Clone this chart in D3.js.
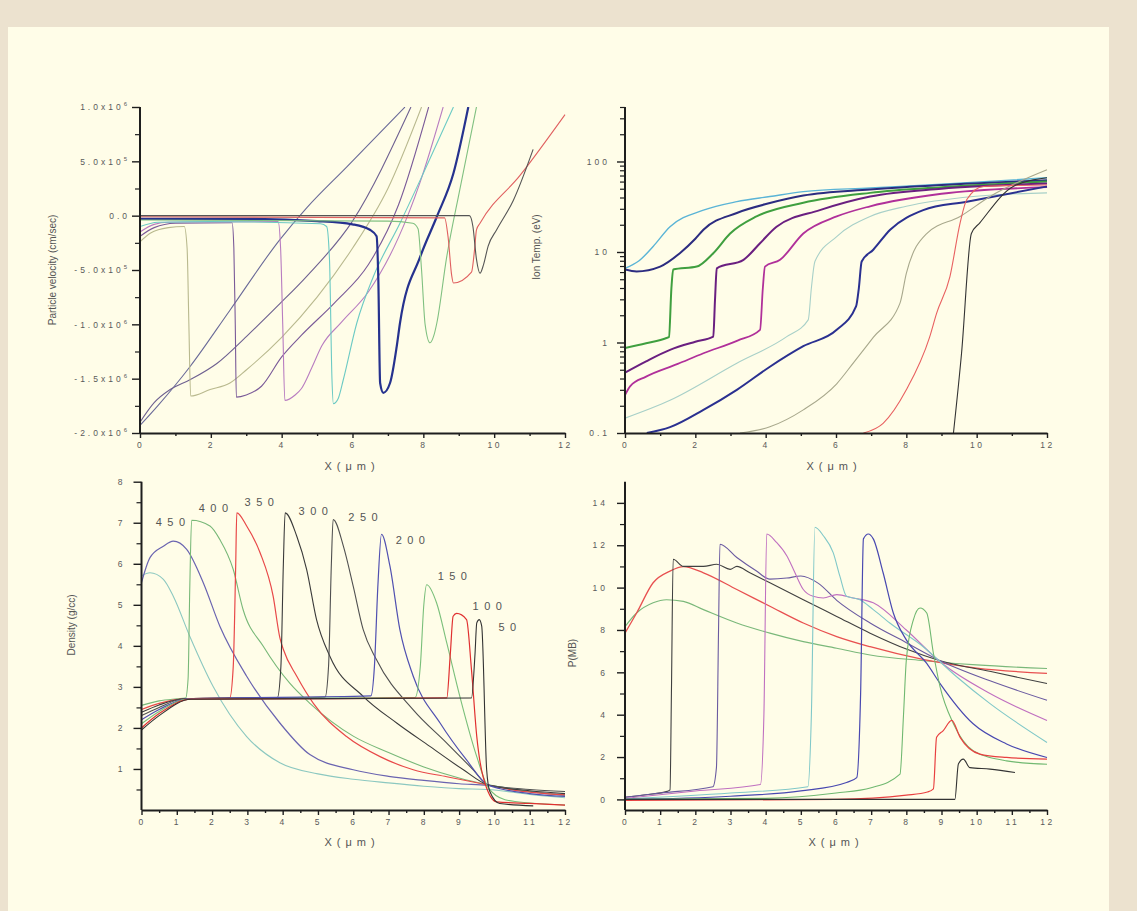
<!DOCTYPE html>
<html><head><meta charset="utf-8">
<script src="https://cdn.jsdelivr.net/npm/d3@7"></script>
<style>
body{margin:0;background:#ece2cf;}
svg{display:block;}
text{font-family:"Liberation Sans",Arial,sans-serif;}
</style></head><body>
<svg id="c" width="1137" height="911"></svg>
<script>
// ---------------- DATA ----------------
const times = [50,100,150,200,250,300,350,400,450,500];

// Particle velocity (units of 1e6 cm/sec) vs X (um)
const vel500 = [[0,-1.93],[0.5,-1.75],[1.41,-1.39],[2.54,-0.87],[3.95,-0.22],[4.7,0.07],[5.84,0.45],[7.48,1.0]];
const vel450 = [[0,-1.9],[0.4,-1.72],[0.85,-1.6],[1.41,-1.51],[2.17,-1.36],[3.01,-1.11],[3.95,-0.81],[4.7,-0.56],[6.0,-0.05],[7.65,1.0]];
const vel400 = [[0,-0.24],[0.3,-0.16],[0.8,-0.11],[1.25,-0.10],[1.33,-0.3],[1.38,-1.0],[1.43,-1.66],[1.98,-1.6],[2.54,-1.54],[3.0,-1.42],[4.0,-1.12],[5.0,-0.75],[6.0,-0.3],[7.0,0.25],[7.95,1.0]];
const vel350 = [[0,-0.19],[0.4,-0.11],[1,-0.07],[2.6,-0.065],[2.65,-0.3],[2.69,-1.0],[2.72,-1.67],[3.0,-1.65],[3.43,-1.57],[4.0,-1.3],[4.56,-1.1],[5.5,-0.8],[6.45,-0.45],[7.3,0.1],[8.15,1.0]];
const vel300 = [[0,-0.15],[0.4,-0.08],[0.8,-0.06],[3.9,-0.055],[3.97,-0.3],[4.03,-1.0],[4.09,-1.70],[4.38,-1.65],[4.56,-1.59],[4.85,-1.40],[5.13,-1.2],[5.69,-0.98],[6.45,-0.7],[7.3,-0.2],[7.9,0.3],[8.56,1.0]];
const vel250 = [[0,-0.1],[0.5,-0.06],[2,-0.055],[5.1,-0.075],[5.27,-0.1],[5.35,-0.4],[5.42,-1.5],[5.46,-1.73],[5.6,-1.68],[5.74,-1.51],[6.12,-0.99],[6.59,-0.56],[7.34,-0.07],[8.0,0.39],[8.85,1.0]];
const vel200 = [[0,-0.03],[3,-0.03],[5,-0.05],[6,-0.08],[6.49,-0.13],[6.68,-0.19],[6.73,-0.6],[6.78,-1.54],[6.87,-1.63],[7.06,-1.54],[7.25,-1.2],[7.34,-0.99],[7.91,-0.38],[8.38,-0.01],[8.85,0.39],[9.27,1.0]];
const vel150 = [[0,-0.04],[7.0,-0.05],[7.7,-0.07],[7.85,-0.12],[7.95,-0.5],[8.05,-1.0],[8.19,-1.17],[8.3,-1.1],[8.38,-0.99],[8.66,-0.38],[9.03,0.24],[9.5,1.0]];
const vel100 = [[0,-0.01],[8.6,-0.02],[8.7,-0.2],[8.8,-0.55],[8.85,-0.62],[9.36,-0.52],[9.45,-0.3],[9.5,-0.13],[9.6,-0.07],[10.73,0.37],[12,0.93]];
const vel50  = [[0,0],[9.3,0],[9.4,-0.1],[9.5,-0.4],[9.6,-0.53],[9.7,-0.45],[9.83,-0.28],[10.07,-0.13],[10.54,0.14],[11.1,0.61]];
const velTicks = [1.0,0.5,0,-0.5,-1.0,-1.5,-2.0];
const velTickLabels = ["1.0x10^6","5.0x10^5","0.0","-5.0x10^5","-1.0x10^6","-1.5x10^6","-2.0x10^6"];

// Ion temperature (eV) vs X (um)
const tem500 = [[0,6.6],[0.4,8],[0.8,11.5],[1.28,19],[2.23,29],[3.18,36],[4.12,41],[5.07,46.5],[6.97,51],[9,56],[12,66]];
const tem450 = [[0,6.4],[0.33,6.1],[1.0,6.9],[1.56,9.7],[2.0,14],[2.23,17.6],[3.18,27],[4.12,34.7],[5.07,42],[6.97,49],[9,55],[12,62]];
const tem400 = [[0,0.87],[0.6,0.98],[1.18,1.12],[1.25,1.15],[1.32,4],[1.37,6.4],[2.04,6.9],[2.51,9.7],[2.99,16],[3.74,24.7],[5.07,35],[6.97,45],[9,52],[12,60]];
const tem350 = [[0,0.465],[0.6,0.62],[1.28,0.83],[2.0,1.02],[2.51,1.16],[2.56,3],[2.61,6.6],[3.37,8.2],[3.84,12.5],[4.31,19],[5.54,29],[6.97,41],[9,50],[12,57]];
const tem300 = [[0,0.263],[0.15,0.33],[0.6,0.42],[1.5,0.58],[2.23,0.76],[3.2,1.05],[3.84,1.38],[3.92,4],[3.98,6.9],[4.41,8.2],[5.07,16],[6.02,24.7],[6.97,32],[9,44],[12,52]];
const tem250 = [[0,0.146],[1.28,0.23],[3.18,0.59],[4.6,1.16],[5.21,1.78],[5.3,4],[5.4,7.85],[6.02,14.8],[6.97,24.7],[8.0,32],[9.9,41],[12,45]];
const tem200 = [[0.62,0.1],[1.28,0.116],[2.23,0.18],[3.18,0.30],[4.12,0.54],[5.07,0.91],[6.02,1.38],[6.57,2.5],[6.65,4],[6.73,7.85],[7.06,10.6],[7.54,17.6],[8.48,29],[9.72,36],[12,53]];
const tem150 = [[3.27,0.1],[4.12,0.117],[5.07,0.18],[6.02,0.35],[6.5,0.6],[7.06,1.14],[7.82,2.72],[8.0,5.8],[8.58,16],[9.53,24.7],[10.38,41],[12,81]];
const tem100 = [[6.78,0.1],[7.34,0.128],[8.0,0.30],[8.66,1.14],[8.86,2.1],[9.24,5.36],[9.53,21],[9.72,38],[10.19,53],[12,55]];
const tem50  = [[9.34,0.1],[9.57,0.76],[9.85,16],[10.09,21],[11.04,53],[12,66]];
const temTicks = [0.1,1,10,100];
const temTickLabels = ["0.1","1","10","100"];

// Density (g/cc) vs X (um)
const den500 = [[0,5.71],[0.24,5.78],[0.62,5.62],[0.9,5.21],[1.37,4.23],[2.03,3.01],[2.98,1.79],[3.92,1.15],[5,0.88],[6,0.75],[7,0.66],[8,0.58],[9,0.52],[9.8,0.5],[11,0.38],[12,0.3]];
const den450 = [[0,5.54],[0.24,6.15],[0.62,6.43],[0.9,6.55],[1.28,6.35],[1.75,5.54],[2.22,4.48],[2.98,3.26],[3.92,2.12],[4.77,1.35],[6,0.98],[7,0.82],[8,0.72],[9,0.64],[9.8,0.6],[11,0.45],[12,0.36]];
const den400 = [[0,2.55],[0.5,2.66],[1.0,2.71],[1.25,2.73],[1.32,3.2],[1.37,5.5],[1.42,7.06],[1.94,6.92],[2.22,6.59],[2.6,5.86],[2.88,4.88],[3.45,3.99],[4.2,3.09],[4.77,2.6],[6,1.8],[7,1.4],[8,1.05],[9,0.78],[9.8,0.62],[11,0.45],[12,0.36]];
const den350 = [[0,2.45],[0.5,2.6],[1.2,2.71],[2.5,2.73],[2.6,3.5],[2.67,6.0],[2.7,7.24],[2.98,6.92],[3.36,6.27],[3.73,5.21],[3.92,4.2],[4.02,3.91],[4.4,3.26],[4.87,2.6],[5.81,1.79],[6.76,1.3],[7.7,0.98],[8.65,0.81],[9.82,0.61],[10.5,0.49],[12,0.37]];
const den300 = [[0,2.38],[0.5,2.56],[1.2,2.71],[3.85,2.74],[3.95,3.5],[4.02,6],[4.07,7.24],[4.4,6.67],[4.68,5.86],[4.96,4.64],[5.34,3.74],[6.28,2.77],[7.23,2.12],[8.17,1.55],[9.12,0.98],[9.82,0.61],[11,0.47],[12,0.4]];
const den250 = [[0,2.3],[0.5,2.5],[1.2,2.71],[5.2,2.75],[5.3,3.5],[5.38,6],[5.43,7.08],[5.72,6.43],[6.0,5.45],[6.28,4.4],[6.66,3.66],[7.7,2.44],[8.65,1.63],[9.4,0.98],[9.82,0.61],[11,0.5],[12,0.45]];
const den200 = [[0,2.2],[0.5,2.45],[1.3,2.71],[6.5,2.78],[6.6,3.5],[6.7,5.5],[6.8,6.72],[7.04,5.94],[7.32,4.4],[7.7,3.26],[8.46,2.12],[9.21,1.22],[9.82,0.61],[11,0.4],[12,0.33]];
const den150 = [[0,2.1],[0.5,2.4],[1.3,2.7],[7.75,2.74],[7.9,3.5],[8.0,5.0],[8.08,5.49],[8.36,5.05],[8.65,4.07],[9.02,2.77],[9.5,1.3],[9.82,0.55],[10.3,0.25],[11,0.17],[12,0.12]];
const den100 = [[0,2.0],[0.5,2.35],[1.4,2.7],[8.65,2.73],[8.75,3.8],[8.83,4.72],[8.93,4.79],[9.21,4.64],[9.35,3.42],[9.5,1.79],[9.68,0.81],[10.06,0.2],[11,0.16],[12,0.12]];
const den50  = [[0,1.95],[0.5,2.3],[1.4,2.7],[9.35,2.73],[9.45,3.8],[9.5,4.56],[9.57,4.64],[9.64,4.48],[9.78,0.98],[9.87,0.45],[10.15,0.16],[11.1,0.1]];
const denLabels = ["450","400","350","300","250","200","150","100","50"];
const denLabelX = [0.81,2.03,3.33,4.86,6.27,7.61,8.8,9.79,10.36];
const denLabelY = [7.03,7.35,7.5,7.28,7.15,6.59,5.69,4.98,4.47];

// Pressure (MB) vs X (um)
const pre500 = [[0,8.16],[0.33,8.8],[0.8,9.28],[1.18,9.43],[1.66,9.35],[2.23,8.96],[3.18,8.33],[4.12,7.85],[5.07,7.45],[6.02,7.14],[6.97,6.82],[8.5,6.55],[10,6.35],[12,6.18]];
const pre450 = [[0,7.85],[0.33,8.8],[0.8,10.23],[1.28,10.78],[1.66,10.99],[2.23,10.7],[3.18,9.91],[4.12,9.12],[5.07,8.33],[6.02,7.69],[6.97,7.21],[8.5,6.6],[10,6.2],[12,5.95]];
const pre400 = [[0,0.1],[0.6,0.22],[1.2,0.38],[1.28,0.45],[1.32,5],[1.37,11.34],[1.66,11.0],[2.23,11.0],[2.61,11.1],[2.99,10.86],[3.18,11.0],[3.55,10.7],[4.12,10.23],[5.07,9.43],[6.02,8.64],[6.97,7.85],[8.0,7.1],[8.96,6.55],[10.5,6.0],[12,5.47]];
const pre350 = [[0,0.1],[1,0.3],[2.5,0.6],[2.6,1.5],[2.66,8],[2.7,12.05],[3.18,11.42],[3.74,10.78],[4.12,10.4],[4.6,10.45],[5.0,10.55],[5.5,10.2],[6.02,9.4],[6.97,8.33],[8.0,7.4],[8.96,6.55],[10.38,5.6],[12,4.68]];
const pre300 = [[0,0.05],[2,0.4],[3.85,0.7],[3.95,4],[4.03,12.53],[4.31,12.13],[4.6,11.5],[4.79,10.86],[5.07,9.91],[5.35,9.59],[5.64,9.51],[6.02,9.67],[6.49,9.51],[7.06,9.28],[8.0,8.0],[8.96,6.5],[10.38,5.0],[12,3.73]];
const pre250 = [[0,0.02],[3,0.3],[5.2,0.6],[5.3,4],[5.4,12.85],[5.64,12.45],[5.92,11.65],[6.11,10.54],[6.3,9.59],[6.68,9.43],[7.06,8.96],[7.53,8.33],[8.48,7.21],[9.43,5.79],[10.38,4.52],[12,2.69]];
const pre200 = [[0,0],[3,0.15],[5,0.4],[6.3,0.8],[6.59,1.03],[6.7,5],[6.78,12.3],[6.92,12.53],[7.06,12.3],[7.34,10.7],[7.63,8.8],[8.0,7.53],[8.58,6.42],[8.96,5.47],[9.9,3.57],[10.85,2.62],[12,1.98]];
const pre150 = [[0,0],[4,0.05],[6,0.3],[7.0,0.55],[7.82,1.19],[7.92,4],[8.0,6.58],[8.2,8.48],[8.39,9.04],[8.58,8.8],[8.77,6.9],[8.96,5.31],[9.34,3.57],[9.9,2.3],[10.85,1.82],[12,1.66]];
const pre100 = [[0,-0.05],[6,0.0],[8.0,0.2],[8.6,0.35],[8.77,0.5],[8.86,2.93],[9.05,3.25],[9.29,3.73],[9.53,2.93],[10.09,2.14],[10.85,1.98],[12,1.9]];
const pre50  = [[0,0],[9.38,0],[9.48,1.67],[9.62,1.9],[9.81,1.5],[10.38,1.43],[11.09,1.27]];

const xMajor2 = [0,2,4,6,8,10,12];
const xMajor1 = [0,1,2,3,4,5,6,7,8,9,10,11,12];

// ---------------- STYLE ----------------
const velStyle = {500:['#6a6a98',1.1],450:['#6e6090',1.1],400:['#b9b98e',1.1],350:['#7a5a98',1.1],300:['#b87cc0',1.1],
  250:['#6ccac4',1.1],200:['#26328e',2.2],150:['#80c080',1.1],100:['#e06060',1.1],50:['#555555',1.1]};
const temStyle = {500:['#5ab4d6',1.4],450:['#2c2c80',2],400:['#3f9f3f',2],350:['#6a1f80',2],300:['#b0309a',1.8],
  250:['#a8d0c8',1.1],200:['#2a3090',2],150:['#a8a88c',1.1],100:['#e86060',1.1],50:['#333333',1.1]};
const denStyle = {500:['#8cc8c0',1.1],450:['#6a64b0',1.2],400:['#78b878',1.1],350:['#e84848',1.2],300:['#3a3a3a',1.1],
  250:['#505050',1.1],200:['#5050b0',1.2],150:['#7abf7a',1.1],100:['#e03030',1.2],50:['#333333',1.1]};
const preStyle = {500:['#7ab87a',1.1],450:['#e85050',1.3],400:['#404040',1.1],350:['#6a5aa0',1.1],300:['#c070c0',1.1],
  250:['#80c8c8',1.1],200:['#4848b0',1.2],150:['#70b870',1.1],100:['#e84040',1.2],50:['#333333',1.1]};

const velData = {500:vel500,450:vel450,400:vel400,350:vel350,300:vel300,250:vel250,200:vel200,150:vel150,100:vel100,50:vel50};
const temData = {500:tem500,450:tem450,400:tem400,350:tem350,300:tem300,250:tem250,200:tem200,150:tem150,100:tem100,50:tem50};
const denData = {500:den500,450:den450,400:den400,350:den350,300:den300,250:den250,200:den200,150:den150,100:den100,50:den50};
const preData = {500:pre500,450:pre450,400:pre400,350:pre350,300:pre300,250:pre250,200:pre200,150:pre150,100:pre100,50:pre50};

// ---------------- DRAW ----------------
const svg = d3.select('#c');
svg.append('rect').attr('width',1137).attr('height',911).attr('fill','#ece2cf');
svg.append('rect').attr('x',8).attr('y',27).attr('width',1101).attr('height',884).attr('fill','#fffde8');

function styleAxis(g, fs, ls){
  g.select('.domain').attr('stroke','#1e1e1e').attr('stroke-width',2);
  g.selectAll('.tick line').attr('stroke','#1e1e1e').attr('stroke-width',1.4);
  g.selectAll('.tick text').attr('fill','#5a5a5a').attr('font-size',fs).attr('letter-spacing',ls)
    .attr('font-family','"Liberation Sans",Arial,sans-serif');
}

function drawPanel(o){
  const x = d3.scaleLinear().domain(o.xDomain).range([o.l,o.r]);
  const y = (o.log?d3.scaleLog():d3.scaleLinear()).domain(o.yDomain).range([o.b,o.t]);
  const id = 'clip'+o.id;
  svg.append('clipPath').attr('id',id).append('rect')
    .attr('x',o.l).attr('y',o.t).attr('width',o.r-o.l+2).attr('height',o.b-o.t);
  const lg = svg.append('g').attr('clip-path',`url(#${id})`);
  const line = d3.line().x(d=>x(d[0])).y(d=>y(d[1])).curve(d3.curveMonotoneX);
  times.slice().reverse().forEach(t=>{
    const st = o.style[t];
    lg.append('path').datum(o.data[t]).attr('d',line).attr('fill','none')
      .attr('stroke',st[0]).attr('stroke-width',st[1]).attr('stroke-linejoin','round');
  });
  // x axis minor
  const xm = svg.append('g').attr('transform',`translate(0,${o.b})`)
    .call(d3.axisBottom(x).tickValues(o.xMinor).tickSize(3).tickSizeOuter(0).tickFormat(''));
  xm.select('.domain').remove();
  xm.selectAll('.tick line').attr('stroke','#1e1e1e').attr('stroke-width',1.4);
  const xa = svg.append('g').attr('transform',`translate(0,${o.b})`)
    .call(d3.axisBottom(x).tickValues(o.xMajor).tickSize(5).tickSizeOuter(0).tickPadding(4)
      .tickFormat(d=>String(d)));
  styleAxis(xa, 8.5, 2.5);
  // y axis minor
  const ym = svg.append('g').attr('transform',`translate(${o.l},0)`)
    .call(d3.axisLeft(y).tickValues(o.yMinor).tickSize(5).tickSizeOuter(0).tickFormat(''));
  ym.select('.domain').remove();
  ym.selectAll('.tick line').attr('stroke','#1e1e1e').attr('stroke-width',1.2);
  const ya = svg.append('g').attr('transform',`translate(${o.l},0)`)
    .call(d3.axisLeft(y).tickValues(o.yMajor).tickSize(8).tickSizeOuter(0).tickPadding(o.yPad)
      .tickFormat((d,i)=>o.yLabels[i]));
  ya.select('.domain').attr('d',`M0,${o.t}V${o.b}`);
  styleAxis(ya, 8.5, o.yLs);
  if(o.sup){
    ya.selectAll('.tick text').each(function(d,i){
      const parts = o.yLabels[i].split('^');
      const s = d3.select(this).text(parts[0]);
      if(parts[1]) s.append('tspan').attr('dy',-4).attr('font-size',6).text(parts[1]);
    });
  }
  // labels
  svg.append('text').attr('x',o.xLabX).attr('y',o.xLabY).attr('text-anchor','middle')
    .attr('font-size',11).attr('fill','#555').attr('letter-spacing',5).text('X(μm)');
  svg.append('text').attr('transform',`translate(${o.yLabX},${o.yLabY}) rotate(-90)`)
    .attr('text-anchor','middle').attr('font-size',10).attr('fill','#555').text(o.yTitle);
  return {x,y};
}

function range(a,b,s){const r=[];for(let v=a;v<=b+1e-9;v+=s)r.push(+v.toFixed(4));return r;}
const logMinor = [];
[0.1,1,10,100].forEach(dec=>{for(let k=2;k<=9;k++){const v=k*dec; if(v<=400) logMinor.push(v);}});

drawPanel({id:'tl',l:140,r:565,t:107,b:433,xDomain:[0,12],yDomain:[-2,1],
  data:velData,style:velStyle,xMajor:xMajor2,xMinor:range(1,11,2),
  yMajor:velTicks,yMinor:range(-1.75,0.75,0.5),yLabels:velTickLabels,yPad:2,yLs:3,sup:true,
  xLabX:352,xLabY:470,yLabX:56,yLabY:270,yTitle:'Particle velocity (cm/sec)'});

drawPanel({id:'tr',l:625,r:1047,t:107,b:433,xDomain:[0,12],yDomain:[0.1,400],log:true,
  data:temData,style:temStyle,xMajor:xMajor2,xMinor:range(1,11,2),
  yMajor:temTicks,yMinor:logMinor,yLabels:temTickLabels,yPad:7,yLs:3,
  xLabX:834,xLabY:470,yLabX:540,yLabY:247,yTitle:'Ion Temp. (eV)'});

const bl = drawPanel({id:'bl',l:141.5,r:565,t:481.7,b:810,xDomain:[0,12],yDomain:[0,8],
  data:denData,style:denStyle,xMajor:xMajor1,xMinor:range(0.5,11.5,1),
  yMajor:range(1,8,1),yMinor:range(0.5,7.5,1),yLabels:range(1,8,1).map(String),yPad:9,yLs:2,
  xLabX:352,xLabY:846,yLabX:75,yLabY:625,yTitle:'Density (g/cc)'});

drawPanel({id:'br',l:625,r:1047,t:481.7,b:810,xDomain:[0,12],yDomain:[-0.5,15],
  data:preData,style:preStyle,xMajor:xMajor1,xMinor:range(0.5,11.5,1),
  yMajor:range(0,14,2),yMinor:range(1,13,2),yLabels:range(0,14,2).map(String),yPad:9,yLs:3,
  xLabX:836,xLabY:846,yLabX:576,yLabY:653,yTitle:'P(MB)'});

// time labels in density panel
svg.append('g').selectAll('text').data(denLabels).join('text')
  .attr('x',(d,i)=>bl.x(denLabelX[i])+3).attr('y',(d,i)=>bl.y(denLabelY[i])+4)
  .attr('text-anchor','middle').attr('font-size',11).attr('letter-spacing',5.5)
  .attr('fill','#555').text(d=>d);
</script>
</body></html>
